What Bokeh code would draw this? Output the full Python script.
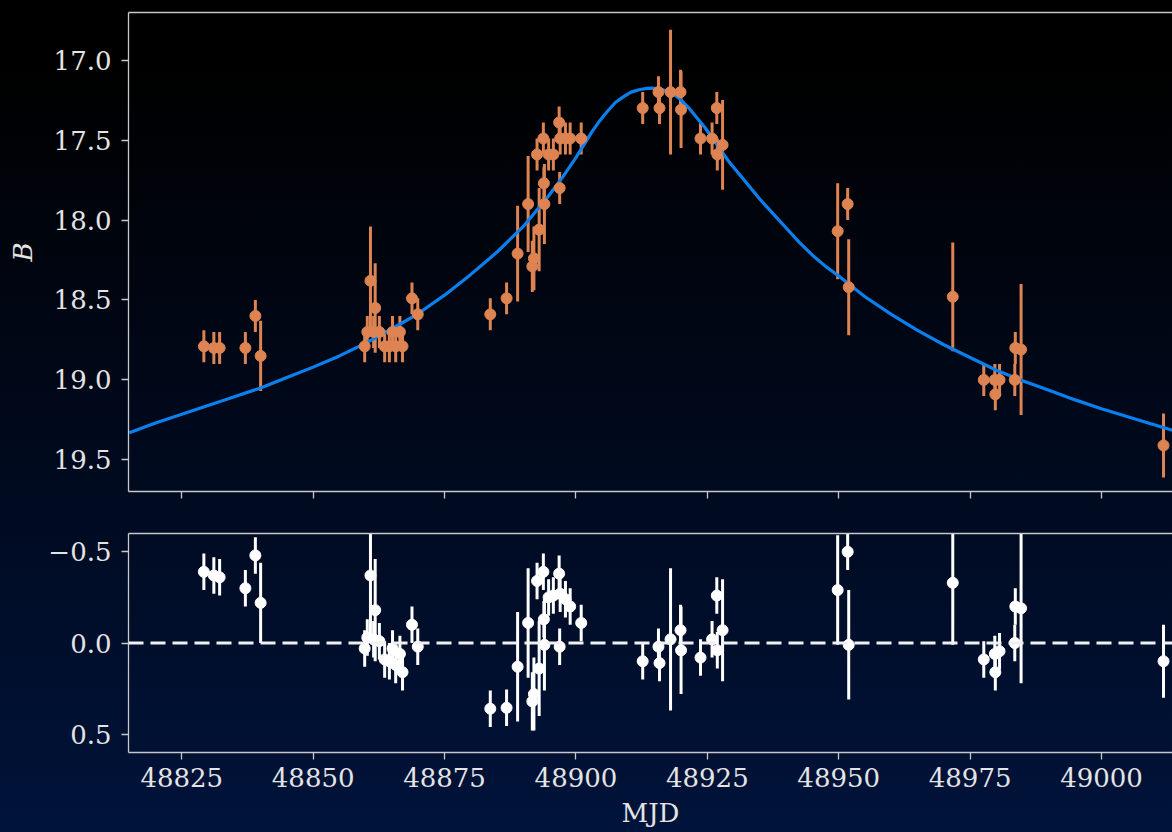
from bokeh.plotting import figure
from bokeh.models import (Range1d, FixedTicker, CustomJSTickFormatter, LinearAxis,
                          Span, ColumnDataSource)
from bokeh.layouts import column
from bokeh.embed import file_html
from bokeh.resources import INLINE

# ---------------- data ----------------
mjd = [48829.2, 48831.1, 48832.2, 48837.1, 48839.0, 48840.0,
       48859.8, 48860.3, 48860.9, 48861.5, 48861.8, 48862.6, 48863.6, 48864.5,
       48865.1, 48865.7, 48866.5, 48867.0, 48868.8, 48869.9,
       48883.7, 48886.8, 48888.9, 48890.9, 48891.7, 48892.0, 48892.6, 48893.0,
       48893.8, 48893.9, 48894.0, 48894.8, 48895.7, 48896.8, 48896.9, 48897.0,
       48898.0, 48898.9, 48901.0,
       48912.7, 48915.7, 48915.9, 48918.0, 48919.9, 48920.0, 48923.7, 48925.9,
       48926.8, 48926.9, 48927.9,
       48949.8, 48951.7, 48951.9, 48971.7, 48977.6, 48979.7, 48979.8, 48980.6,
       48983.5, 48983.6, 48984.7, 49011.8]

bmag = [18.79, 18.80, 18.80, 18.80, 18.60, 18.85,
        18.79, 18.70, 18.38, 18.70, 18.55, 18.70, 18.79, 18.79,
        18.70, 18.79, 18.70, 18.79, 18.49, 18.59,
        18.59, 18.49, 18.21, 17.90, 18.29, 18.24, 17.59, 18.06,
        17.49, 17.77, 17.90, 17.59, 17.59, 17.39, 17.80, 17.49,
        17.49, 17.49, 17.49,
        17.30, 17.20, 17.30, 17.20, 17.20, 17.31, 17.49, 17.49,
        17.30, 17.59, 17.53,
        18.07, 17.90, 18.42, 18.48, 19.00, 19.00, 19.09, 19.00,
        19.00, 18.80, 18.81, 19.41]

berr = [0.10, 0.10, 0.10, 0.10, 0.10, 0.22,
        0.10, 0.10, 0.34, 0.10, 0.28, 0.10, 0.10, 0.10,
        0.10, 0.10, 0.10, 0.10, 0.10, 0.10,
        0.10, 0.10, 0.30, 0.30, 0.16, 0.20, 0.10, 0.26,
        0.10, 0.10, 0.25, 0.10, 0.10, 0.10, 0.10, 0.10,
        0.10, 0.10, 0.10,
        0.10, 0.10, 0.10, 0.39, 0.14, 0.24, 0.10, 0.10,
        0.10, 0.10, 0.28,
        0.30, 0.10, 0.30, 0.34, 0.10, 0.10, 0.10, 0.10,
        0.10, 0.10, 0.41, 0.20]

resid = [-0.39, -0.37, -0.36, -0.30, -0.48, -0.22,
         0.03, -0.03, -0.37, -0.02, -0.18, -0.01, 0.09, 0.10,
         0.03, 0.12, 0.06, 0.16, -0.10, 0.02,
         0.36, 0.355, 0.13, -0.11, 0.32, 0.28, -0.34, 0.14,
         -0.39, -0.13, 0.01, -0.25, -0.26, -0.38, 0.02, -0.27,
         -0.24, -0.20, -0.11,
         0.10, 0.02, 0.11, -0.02, -0.07, 0.04, 0.08, -0.02,
         -0.26, 0.04, -0.07,
         -0.29, -0.50, 0.01, -0.33, 0.09, 0.06, 0.16, 0.045,
         0.00, -0.20, -0.19, 0.10]

curve_mjd = [48815, 48820, 48825, 48830, 48835, 48840, 48845, 48850, 48855,
             48860, 48865, 48870, 48875, 48880, 48882.5, 48885, 48887.5, 48890,
             48892.5, 48895, 48897.5, 48900, 48903, 48904.5, 48906, 48907.5,
             48909, 48910.5, 48912, 48913.5, 48914.5, 48916, 48917, 48918.5,
             48920, 48921.5, 48923, 48924.5, 48926, 48927.5, 48929, 48930.5,
             48932, 48935, 48937.5, 48940, 48942.5, 48945, 48947.5, 48950,
             48955, 48960, 48965, 48970, 48975, 48980, 48985, 48990, 48995,
             49000, 49005, 49010, 49014]
curve_b = [19.33, 19.27, 19.215, 19.16, 19.105, 19.05, 18.985, 18.92, 18.85,
           18.77, 18.68, 18.585, 18.47, 18.34, 18.27, 18.20, 18.12, 18.04,
           17.94, 17.84, 17.73, 17.61, 17.45, 17.38, 17.32, 17.265,
           17.23, 17.20, 17.185, 17.177, 17.175, 17.18, 17.19, 17.21,
           17.25, 17.30, 17.36, 17.42, 17.49, 17.56, 17.63, 17.69,
           17.75, 17.87, 17.96, 18.05, 18.14, 18.22, 18.29, 18.35,
           18.48, 18.59, 18.69, 18.78, 18.86, 18.94, 19.005, 19.065, 19.125,
           19.18, 19.23, 19.28, 19.32]

x_ticks = [48825, 48850, 48875, 48900, 48925, 48950, 48975, 49000]
b_ticks = [17.0, 17.5, 18.0, 18.5, 19.0, 19.5]
r_ticks = [-0.5, 0.0, 0.5]

# ---------------- styling ----------------
FONT = "DejaVu Serif"
FS = "26px"
TXT = "#e4e4e4"
SPINE = "#c8c8c8"
ORANGE = "#DD8452"
BLUE = "#0a80ee"
WIDTH = 1172

src = ColumnDataSource(dict(
    mjd=mjd, b=bmag,
    blo=[v - e for v, e in zip(bmag, berr)],
    bhi=[v + e for v, e in zip(bmag, berr)],
    r=resid,
    rlo=[v - e for v, e in zip(resid, berr)],
    rhi=[v + e for v, e in zip(resid, berr)],
))
csrc = ColumnDataSource(dict(x=curve_mjd, y=curve_b))

xr = Range1d(48814.86, 49013.51)


def style_axis(ax, labels=True):
    ax.axis_line_color = SPINE
    ax.axis_line_width = 1.3
    ax.major_tick_line_color = SPINE
    ax.major_tick_line_width = 1.3
    ax.major_tick_out = 7
    ax.major_tick_in = 0
    ax.minor_tick_line_color = None
    ax.major_label_text_color = TXT
    ax.major_label_text_font = FONT
    ax.major_label_text_font_size = FS if labels else "1px"
    ax.major_label_standoff = 10 if labels else 0
    ax.axis_label_text_color = TXT
    ax.axis_label_text_font = FONT
    ax.axis_label_text_font_size = FS
    ax.axis_label_text_font_style = "normal"


def add_top_spine(p):
    top = LinearAxis(ticker=FixedTicker(ticks=[]))
    top.axis_line_color = SPINE
    top.axis_line_width = 1.3
    top.major_tick_line_color = None
    top.minor_tick_line_color = None
    top.major_label_standoff = 0
    p.add_layout(top, "above")


# ---------------- top panel ----------------
p1 = figure(width=WIDTH, height=512, x_range=xr, y_range=Range1d(19.698, 16.702),
            output_backend="svg", toolbar_location=None,
            min_border_left=128, min_border_right=0, min_border_top=12,
            min_border_bottom=21)
p1.background_fill_alpha = 0
p1.border_fill_alpha = 0
p1.outline_line_color = None
p1.grid.visible = False

bx1 = p1.below[0]
ly1 = p1.left[0]
style_axis(bx1, labels=False)
bx1.ticker = FixedTicker(ticks=x_ticks)
bx1.formatter = CustomJSTickFormatter(code="return '';")
style_axis(ly1)
ly1.ticker = FixedTicker(ticks=b_ticks)
ly1.formatter = CustomJSTickFormatter(code="return tick.toFixed(1);")
ly1.axis_label = "B"
ly1.axis_label_text_font_style = "italic"
ly1.axis_label_standoff = 13
add_top_spine(p1)

p1.segment(x0="mjd", y0="blo", x1="mjd", y1="bhi", source=src,
           line_color=ORANGE, line_width=3)
p1.line(x="x", y="y", source=csrc, line_color=BLUE, line_width=3.2)
p1.scatter(x="mjd", y="b", source=src, size=11, fill_color=ORANGE,
           line_color=ORANGE)

# ---------------- residual panel ----------------
p2 = figure(width=WIDTH, height=320, x_range=xr, y_range=Range1d(0.6, -0.6),
            output_backend="svg", toolbar_location=None,
            min_border_left=128, min_border_right=0, min_border_top=21,
            min_border_bottom=80)
p2.background_fill_alpha = 0
p2.border_fill_alpha = 0
p2.outline_line_color = None
p2.grid.visible = False

bx2 = p2.below[0]
ly2 = p2.left[0]
style_axis(bx2)
bx2.ticker = FixedTicker(ticks=x_ticks)
bx2.formatter = CustomJSTickFormatter(code="return tick.toFixed(0);")
bx2.major_label_standoff = 8
bx2.axis_label = "MJD"
bx2.axis_label_standoff = 8
style_axis(ly2)
ly2.ticker = FixedTicker(ticks=r_ticks)
ly2.formatter = CustomJSTickFormatter(
    code="return tick.toFixed(1).replace('-', '\\u2212');")
add_top_spine(p2)

p2.add_layout(Span(location=0, dimension="width", line_color="#f0f0f0",
                   line_width=3, line_dash="15 7"))
p2.segment(x0="mjd", y0="rlo", x1="mjd", y1="rhi", source=src,
           line_color="white", line_width=3)
p2.scatter(x="mjd", y="r", source=src, size=11, fill_color="white",
           line_color="white")

layout = column(p1, p2, spacing=0,
                styles={"background": "linear-gradient(180deg, #000000 0%, #000000 8%, #00133a 100%)"})

open("out.html", "w").write(file_html(layout, INLINE))
